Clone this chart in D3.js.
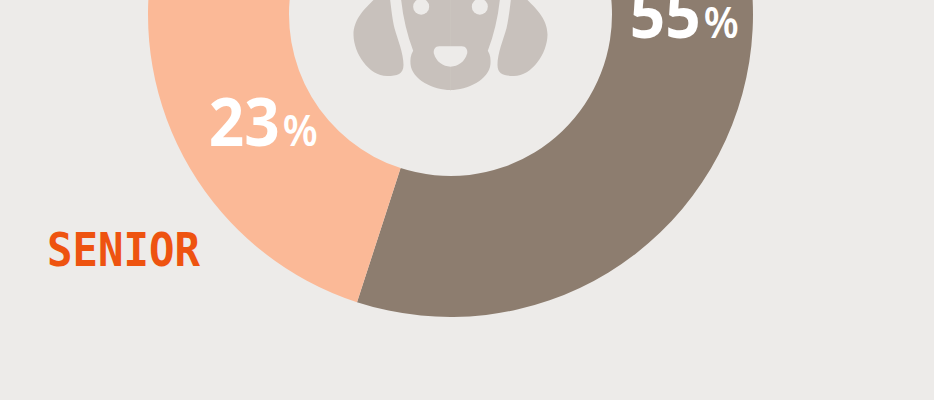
<!DOCTYPE html>
<html><head><meta charset="utf-8">
<script src="https://cdn.jsdelivr.net/npm/d3@7"></script>
<style>html,body{margin:0;padding:0;background:#edebe9}svg{display:block}</style>
</head><body><svg id="c" width="934" height="400"></svg>
<script>
const categories = ["Adult", "Senior", "Puppy"];
const shares = [55, 23, 22];
const sliceColors = ["#8d7d6f", "#fbb997", "#f9d9c5"];
const valueUnit = "%";
const seniorLabel = "SENIOR";

const W = 934, H = 400, cx = 450.5, cy = 14.5, rOuter = 302.5, rInner = 161.5;
const svg = d3.select("#c");
svg.append("rect").attr("width", W).attr("height", H).attr("fill", "#edebe9");
const g = svg.append("g").attr("transform", `translate(${cx},${cy})`);
const pie = d3.pie().sort(null).value(d => d)(shares);
const arc = d3.arc().innerRadius(rInner).outerRadius(rOuter);
g.selectAll("path.slice").data(pie).join("path").attr("class", "slice")
  .attr("d", arc).attr("fill", (d, i) => sliceColors[i]);

// Dog icon (half outline mirrored around the centre line)
const icon = svg.append("g").attr("transform", `translate(${cx},0) scale(0.3333)`).attr("fill", "#c8c1bc");
const ear = "M-231,0 C-250,20 -292,55 -291,105 C-290,160 -245,228 -190,228 C-160,228 -141,222 -141,195 C-141,160 -158,120 -168,85 C-174,60 -178,25 -181,0 Z";
const headHalf = "M-148,0 C-142,55 -130,105 -112,152 C-120,165 -121,178 -120,192 C-116,240 -50,270 0,270 L0,0 Z";
[1, -1].forEach(s => {
  const h = icon.append("g").attr("transform", `scale(${s},1)`);
  h.append("path").attr("d", ear);
  h.append("path").attr("d", headHalf);
  h.append("path").attr("d", "M0,-1 L0,271 L1.5,271 L1.5,-1 Z");
  h.append("circle").attr("cx", -88).attr("cy", 20).attr("r", 24).attr("fill", "#edebe9");
});
icon.append("path").attr("fill", "#edebe9")
  .attr("d", "M-34,139 L34,139 C46,139 52,150 50,160 C44,185 22,200 0,200 C-22,200 -44,185 -50,160 C-52,150 -46,139 -34,139 Z");

// Value labels
const labelFont = "'Noto Sans',sans-serif";
const labels = [
  {i: 0, dx: -50, dy: -13},
  {i: 1, dx: -42, dy: 13}
];
labels.forEach(l => {
  const [x, y] = arc.centroid(pie[l.i]);
  g.append("text").attr("fill", "#fff").attr("font-family", labelFont).attr("font-weight", 700)
    .attr("x", x + l.dx).attr("y", y + l.dy).attr("font-size", 67).attr("textLength", 71).attr("lengthAdjust", "spacingAndGlyphs")
    .text(shares[l.i]);
  g.append("text").attr("fill", "#fff").attr("font-family", labelFont).attr("font-weight", 600)
    .attr("x", x + l.dx + 74).attr("y", y + l.dy).attr("font-size", 43).attr("textLength", 35).attr("lengthAdjust", "spacingAndGlyphs")
    .text(valueUnit);
});

svg.append("text").attr("x", 47).attr("y", 266).attr("fill", "#ee5310")
  .attr("font-family", "'DejaVu Sans Mono',monospace").attr("font-weight", 700).attr("font-size", 46)
  .attr("textLength", 153).attr("lengthAdjust", "spacingAndGlyphs").text(seniorLabel);
</script></body></html>
